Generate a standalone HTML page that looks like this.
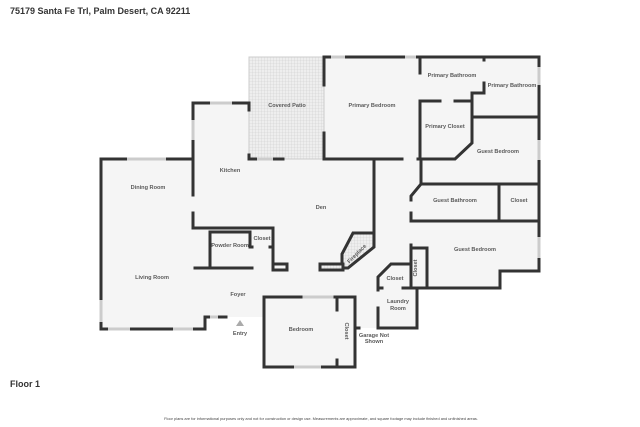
<!DOCTYPE html>
<html><head><meta charset="utf-8"><style>
html,body{margin:0;padding:0;background:#fff;}
svg{display:block;font-family:"Liberation Sans",sans-serif;}
.w{stroke:#333;stroke-width:3;fill:none;stroke-linecap:square;stroke-linejoin:miter}
.win{stroke:#ccc;stroke-width:3;}
.t{font-size:5.6px;font-weight:bold;fill:#5a5a5a;text-anchor:middle}
</style></head><body>
<svg width="640" height="427" viewBox="0 0 640 427">
<defs>
<pattern id="hat" width="3" height="3" patternUnits="userSpaceOnUse"><rect width="3" height="3" fill="#eee"/><path d="M0 0H3M0 0V3" stroke="#ccc" stroke-width="0.6"/></pattern>
</defs>
<text x="10" y="14" font-size="9" font-weight="bold" fill="#333">75179 Santa Fe Trl, Palm Desert, CA 92211</text>
<path fill="#f5f5f5" d="M101 159H193V103H249V57H539V271H500V288H417V328H355V367H264V317H205V329H101Z"/>
<rect x="249" y="57" width="75" height="102" fill="url(#hat)" stroke="#ccc" stroke-width="1"/>
<polyline class="w" points="101,159 193,159 193,103 249,103 249,110"/>
<polyline class="w" points="249,155 249,159 283,159"/>
<polyline class="w" points="324,57 539,57 539,271 500,271 500,288 427,288"/>
<polyline class="w" points="324,57 324,85"/><polyline class="w" points="324,133 324,159 402,159"/>
<polyline class="w" points="101,159 101,329 205,329 205,317 210,317"/>
<line class="w" x1="218" y1="317" x2="226" y2="317"/>
<line class="win" x1="127" y1="159" x2="166" y2="159"/>
<line class="win" x1="210" y1="103" x2="232" y2="103"/>
<line class="win" x1="193" y1="120" x2="193" y2="140"/>
<line class="win" x1="257" y1="159" x2="273" y2="159"/>
<line class="win" x1="331" y1="57" x2="345" y2="57"/>
<line class="win" x1="405" y1="57" x2="416" y2="57"/>
<line class="win" x1="539" y1="67" x2="539" y2="85"/>
<line class="win" x1="539" y1="140" x2="539" y2="160"/>
<line class="win" x1="539" y1="237" x2="539" y2="258"/>
<line class="win" x1="108" y1="329" x2="130" y2="329"/>
<line class="win" x1="173" y1="329" x2="193" y2="329"/>
<line class="win" x1="101" y1="300" x2="101" y2="322"/>
<line class="win" x1="210" y1="317" x2="218" y2="317"/>
<line class="win" x1="301" y1="297" x2="335" y2="297"/>
<line class="w" x1="193" y1="159" x2="193" y2="195"/>
<polyline class="w" points="193,213 193,228 273,228 273,270 287,270 287,264 274,264"/>
<polyline class="w" points="210,232 210,268"/><line class="w" x1="195" y1="268" x2="252" y2="268"/>
<polyline class="w" points="212,232 250,232 250,247"/><line class="w" x1="250" y1="247" x2="252" y2="247"/>
<line class="w" x1="270" y1="247" x2="272" y2="247"/>
<polyline class="w" points="374,159 374,242"/>
<polygon points="353,233 374,233 374,247 348,268 342,268 342,254" fill="url(#hat)" stroke="#333" stroke-width="3"/>
<rect x="320" y="264" width="23" height="6" fill="url(#hat)" stroke="#333" stroke-width="3"/>
<polyline class="w" points="418,159 455,159 472,143 472,93 484,93 484,83"/>
<polyline class="w" points="420,159 420,101 440,101"/><line class="w" x1="455" y1="101" x2="472" y2="101"/>
<line class="w" x1="420" y1="57" x2="420" y2="73"/>
<line class="w" x1="484" y1="57" x2="484" y2="60"/>
<polyline class="w" points="472,93 472,117 539,117"/>
<line class="w" x1="472" y1="184" x2="539" y2="184"/>
<line class="w" x1="421" y1="160" x2="421" y2="184"/>
<polyline class="w" points="520,184 421,184 411,196 411,200"/>
<line class="w" x1="411" y1="213" x2="411" y2="221"/>
<line class="w" x1="411" y1="221" x2="539" y2="221"/>
<line class="w" x1="499" y1="184" x2="499" y2="221"/>
<line class="w" x1="411" y1="245" x2="411" y2="288"/>
<polyline class="w" points="411,248 427,248 427,288 411,288"/>
<polyline class="w" points="410,264 391,264 378,277 378,290"/>
<line class="w" x1="378" y1="288" x2="382" y2="288"/><line class="w" x1="403" y1="288" x2="417" y2="288"/>
<polyline class="w" points="417,288 417,328 378,328 378,308"/>
<line class="w" x1="357" y1="328" x2="359" y2="328"/>
<polyline class="w" points="264,367 264,297 301,297"/>
<polyline class="w" points="335,297 355,297 355,367 322,367"/>
<line class="w" x1="264" y1="367" x2="293" y2="367"/>
<line class="win" x1="294" y1="367" x2="321" y2="367"/>
<line class="w" x1="337" y1="297" x2="337" y2="310"/>
<line class="w" x1="337" y1="360" x2="337" y2="367"/>
<polygon points="240,320 236,326 244,326" fill="#aaa"/>
<text class="t" x="148" y="189">Dining Room</text>
<text class="t" x="230" y="172">Kitchen</text>
<text class="t" x="287" y="107">Covered Patio</text>
<text class="t" x="372" y="107">Primary Bedroom</text>
<text class="t" x="452" y="77">Primary Bathroom</text>
<text class="t" x="512" y="87">Primary Bathroom</text>
<text class="t" x="445" y="128">Primary Closet</text>
<text class="t" x="498" y="153">Guest Bedroom</text>
<text class="t" x="455" y="202">Guest Bathroom</text>
<text class="t" x="519" y="202">Closet</text>
<text class="t" x="475" y="251">Guest Bedroom</text>
<text class="t" x="321" y="209">Den</text>
<text class="t" x="230" y="247">Powder Room</text>
<text class="t" x="262" y="240">Closet</text>
<text class="t" x="152" y="279">Living Room</text>
<text class="t" x="238" y="296">Foyer</text>
<text class="t" x="240" y="335">Entry</text>
<text class="t" x="301" y="331">Bedroom</text>
<text class="t" x="395" y="280">Closet</text>
<text class="t" x="398" y="303">Laundry</text>
<text class="t" x="398" y="310">Room</text>
<text class="t" x="374" y="337">Garage Not</text>
<text class="t" x="374" y="343">Shown</text>
<text class="t" transform="translate(345,331) rotate(90)">Closet</text>
<text class="t" transform="translate(417,268) rotate(-90)">Closet</text>
<text class="t" transform="translate(358,255) rotate(-45)" font-size="4.5">Fireplace</text>
<text x="10" y="387" font-size="9" font-weight="bold" fill="#333">Floor 1</text>
<text x="321" y="420" font-size="3.9" fill="#444" text-anchor="middle">Floor plans are for informational purposes only and not for construction or design use. Measurements are approximate, and square footage may include finished and unfinished areas.</text>
</svg>
</body></html>
